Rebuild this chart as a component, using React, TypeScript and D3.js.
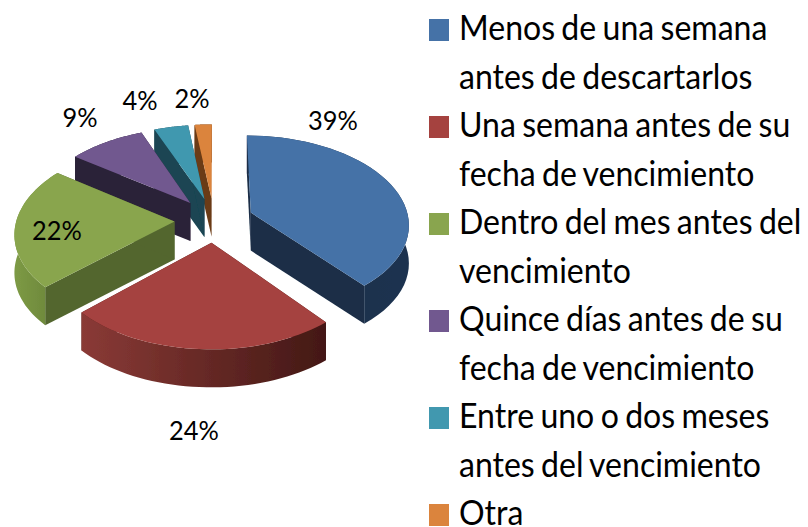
import React from 'react';
import * as d3 from 'd3';

const shares = [39, 24, 22, 9, 4, 2];
const percentLabels = ['39%', '24%', '22%', '9%', '4%', '2%'];
const topColors = ['#4572a7', '#a5423f', '#89a54e', '#71588f', '#4198af', '#db843d'];
const wallColors = ['#1a2d46', '#4a1a17', '#53662f', '#2b2138', '#1a4552', '#6b3a14'];
const rimLeftColors = ['#1a2d46', '#8a3a36', '#7d9a45', '#2b2138', '#1a4552', '#6b3a14'];
const rimRightColors = ['#1d3350', '#431815', '#6a8439', '#2b2138', '#1a4552', '#6b3a14'];
const legendLines = [
  ['Menos de una semana', 'antes de descartarlos'],
  ['Una semana antes de su', 'fecha de vencimiento'],
  ['Dentro del mes antes del', 'vencimiento'],
  ['Quince días antes de su', 'fecha de vencimiento'],
  ['Entre uno o dos meses', 'antes del vencimiento'],
  ['Otra'],
];

const W = 808, H = 527;
const cx = 214, cy = 220;
const rx = 158, ry = 88;
const tilt = 0.12;
const explode = 0.25;
const depth = 38;
const rowH = 48.5;
const textSquash = 0.915; // the reference text is a squeezed Calibri

// simple perspective: the front of the pie is nearer than the back
const project = (u: number, v: number): [number, number] => {
  const s = 1 / (1 - tilt * v);
  return [cx + rx * u * s, cy + ry * v * s];
};

const arcs = d3.pie<number>().sort(null).value(d => d)(shares);
const line = d3.line();
const drop = (pts: [number, number][]) => pts.map(p => [p[0], p[1] + depth] as [number, number]);
const wall = (pts: [number, number][]) => line([...pts, ...drop(pts).reverse()]) + 'Z';

const labelX = [333, 194, 57, 80, 140, 192];
const labelY = [130, 440, 240, 127, 110, 108];

const App = () => {
  const slices = arcs.map((a, i) => {
    const mid = (a.startAngle + a.endAngle) / 2;
    const ox = explode * Math.sin(mid), oy = -explode * Math.cos(mid);
    const apex = project(ox, oy);
    const pt = (t: number) => project(ox + Math.sin(t), oy - Math.cos(t));
    const rim = d3.range(0, 41).map(k => pt(a.startAngle + (a.endAngle - a.startAngle) * k / 40));
    return { i, apex, rim };
  });
  // back to front
  const order = [5, 4, 3, 0, 2, 1];
  let row = 0;
  return (
    <svg width={W} height={H} style={{ position: 'absolute', left: 0, top: 0, background: '#fff' }} fontFamily="Lato, Carlito, sans-serif">
      <defs>
        <filter id="soft" x="-5%" y="-5%" width="110%" height="110%">
          <feGaussianBlur stdDeviation="0.6" />
        </filter>
        {slices.map(s => (
          <linearGradient key={s.i} id={`rim${s.i}`} x1="0" x2="1" y1="0" y2="0">
            <stop offset="0" stopColor={rimLeftColors[s.i]} />
            <stop offset="1" stopColor={rimRightColors[s.i]} />
          </linearGradient>
        ))}
      </defs>
      <g filter="url(#soft)">
        {order.map(i => {
          const s = slices[i];
          const first = s.rim[0], last = s.rim[s.rim.length - 1];
          return (
            <g key={i}>
              <path d={wall([s.apex, first])} fill={wallColors[i]} />
              <path d={wall([s.apex, last])} fill={wallColors[i]} />
              <path d={wall(s.rim)} fill={`url(#rim${i})`} />
              <path d={line([s.apex, ...s.rim]) + 'Z'} fill={topColors[i]} />
            </g>
          );
        })}
      </g>
      {percentLabels.map((t, i) => (
        <text key={t} transform={`translate(${labelX[i]},${labelY[i]}) scale(0.94,1)`} textAnchor="middle" fontSize={27} fill="#000">{t}</text>
      ))}
      {legendLines.map((lines, i) => {
        const y0 = 40 + row * rowH;
        row += lines.length;
        return (
          <g key={i}>
            <rect x={429} y={y0 - 21} width={20} height={22} fill={topColors[i]} />
            {lines.map((l, j) => (
              <text key={j} transform={`translate(459,${y0 + j * rowH}) scale(${textSquash},1)`} fontSize={35} wordSpacing={-2} fill="#000">{l}</text>
            ))}
          </g>
        );
      })}
    </svg>
  );
};

export default App;
